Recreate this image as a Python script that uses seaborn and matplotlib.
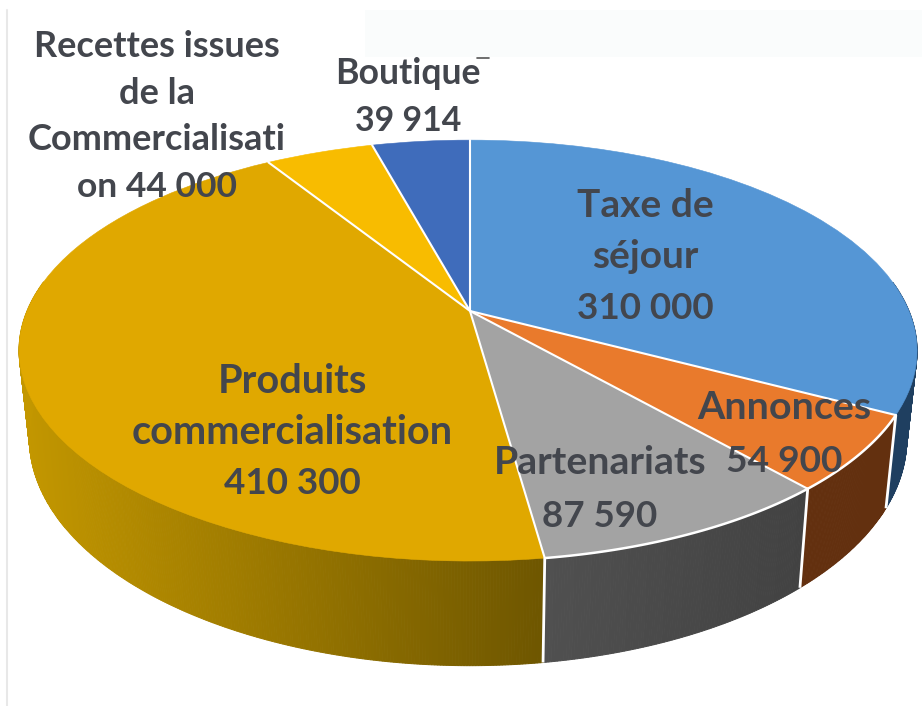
import numpy as np
import matplotlib
matplotlib.use("Agg")
import matplotlib.pyplot as plt
import matplotlib.colors as mc
from matplotlib.patches import Rectangle
from matplotlib.transforms import Transform
import seaborn as sns

categories = ["Taxe de\nséjour", "Annonces", "Partenariats", "Produits\ncommercialisation",
              "Recettes issues\nde la\nCommercialisati\non", "Boutique"]
values = [310000, 54900, 87590, 410300, 44000, 39914]
separators = ["\n", "\n", "\n", "\n", " ", "\n"]
top_colors = ["#5596D5", "#E97A2C", "#A3A3A3", "#E0A800", "#F8BC00", "#3F6CBB"]
side_light = ["#1F3F60", "#63300F", "#505050", "#C39700", "#C39700", "#2A4A80"]
side_dark = ["#1F3F60", "#63300F", "#424242", "#6E5600", "#6E5600", "#2A4A80"]
label_x = [645, 784, 600, 292, 157, 408]
label_first_baseline = [217, 419, 474, 393, 57, 84]
label_spacing = [51, 53, 53, 50.5, 46.7, 47]
name_sizes = [28, 28.4, 28.3, 28.5, 26, 25.7]
value_sizes = [26.5, 26.7, 26.5, 26.5, 25.5, 24.4]

sns.set_theme(style="white")
plt.rcParams["font.family"] = ["Lato", "DejaVu Sans"]
TXT = "#43464D"

CX, CY, A, B, P = 468.0, 311.0, 441.0, 203.0, 0.188
LEAN = 2.0
DEPTH, SHRINK = 85.0, 0.977


class Perspective(Transform):
    input_dims = output_dims = 2
    is_affine = False
    has_inverse = False

    def transform_non_affine(self, xy):
        xy = np.asarray(xy, float)
        w = 1 + P * xy[:, 1]
        return np.column_stack([CX + LEAN * (1 - xy[:, 0] ** 2) + A * xy[:, 0] / w,
                                CY - B * xy[:, 1] / w])


persp = Perspective()


def upper(u, v):
    w = 1 + P * v
    return CX + LEAN * (1 - u ** 2) + A * u / w, CY - B * v / w


def lower(u, v):
    w = 1 + P * v
    return CX + LEAN * (1 - u ** 2) + SHRINK * A * u / w, CY - B * v / w + DEPTH / w


fig = plt.figure(figsize=(9.22, 7.06), dpi=100, facecolor="white")
ax = fig.add_axes([0, 0, 1, 1])
palette = sns.color_palette(top_colors)
wedges, _ = ax.pie(values, colors=palette, startangle=90, counterclock=False,
                   wedgeprops={"linewidth": 0.4, "zorder": 3})
for wd, c in zip(wedges, palette):
    wd.set_edgecolor(c)
    wd.set_transform(persp + ax.transData)
ax.set_aspect("auto")
ax.set_xlim(0, 922)
ax.set_ylim(706, 0)
ax.axis("off")

# background scraps of the source picture
ax.add_patch(Rectangle((365, 10), 557, 47, fc="#FAFCFC", ec="none", zorder=0))
ax.plot([6.5, 6.5], [10, 706], color="#E8E8E8", lw=1.5, zorder=0)
ax.plot([477, 489], [58, 58], color="#555555", lw=1.2, zorder=0)

# side walls
edges = np.concatenate([[0], np.cumsum(values)]) / np.sum(values) * 2 * np.pi
for i in range(len(values)):
    th = np.linspace(edges[i], edges[i + 1], int((edges[i + 1] - edges[i]) * 180) + 2)
    u, v = np.sin(th), np.cos(th)
    keep = v < 0.15
    if keep.sum() < 2:
        continue
    u, v = u[keep], v[keep]
    xb, yb = lower(u, v)
    xt, yt = upper(u, v)
    span = max(np.ptp(xb), 1e-6)
    frac = (xb.max() - xb) / span
    c0, c1 = np.array(mc.to_rgb(side_dark[i])), np.array(mc.to_rgb(side_light[i]))
    for k in range(len(u) - 1):
        col = c0 + (c1 - c0) * 0.5 * (frac[k] + frac[k + 1])
        ax.fill([xt[k], xt[k + 1], xb[k + 1], xb[k]], [yt[k], yt[k + 1], yb[k + 1], yb[k]],
                color=col, lw=0.7, zorder=1)

# white separators on walls and top
for i in range(1, 4):
    u, v = np.sin(edges[i]), np.cos(edges[i])
    xb, yb = lower(u, v)
    xt, yt = upper(u, v)
    ax.plot([xt, xb], [yt, yb], color="white", lw=2, zorder=2, solid_capstyle="butt")
for e in edges[:-1]:
    ax.plot([0, np.sin(e)], [0, np.cos(e)], color="white", lw=1.5, zorder=4,
            transform=persp + ax.transData)
for i in (1, 2):
    th = np.linspace(edges[i], edges[i + 1], 60)
    ax.plot(np.sin(th), np.cos(th), color="white", lw=1.8, zorder=4,
            transform=persp + ax.transData)

# labels, one text per line so each sits on its own baseline
for i, (cat, val, sep) in enumerate(zip(categories, values, separators)):
    vs = f"{val:,}".replace(",", " ")
    lines = (cat + sep + vs).split("\n")
    for j, line in enumerate(lines):
        size = value_sizes[i] if j == len(lines) - 1 else name_sizes[i]
        ax.text(label_x[i], label_first_baseline[i] + j * label_spacing[i], line,
                ha="center", va="baseline", fontsize=size, fontweight="bold",
                color=TXT, zorder=6)

fig.savefig("out.png", dpi=100, facecolor="white")
